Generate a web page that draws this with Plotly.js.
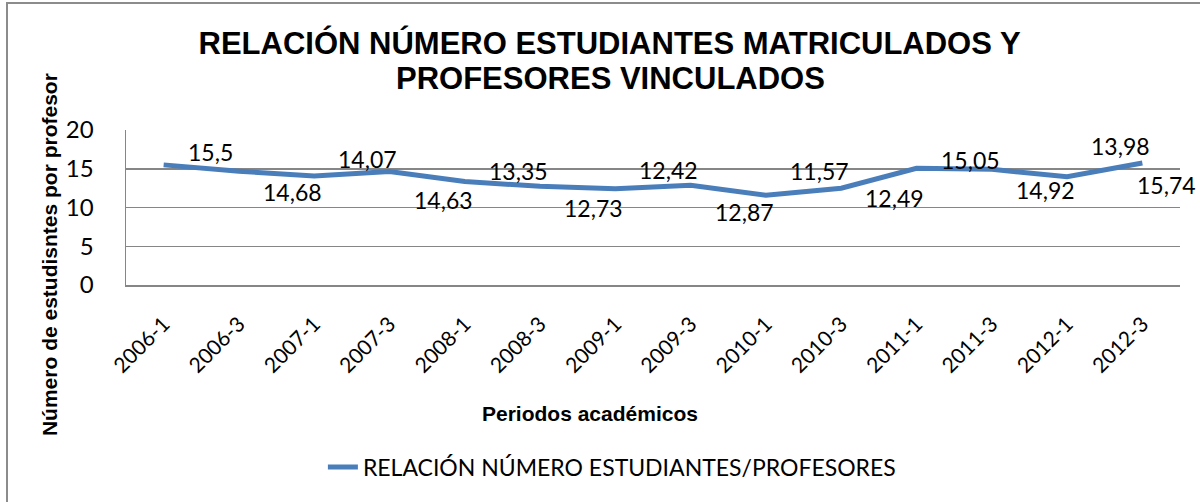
<!DOCTYPE html>
<html>
<head>
<meta charset="utf-8">
<script src="https://cdn.plot.ly/plotly-3.0.1.min.js"></script>
<style>
  html, body { margin: 0; padding: 0; background: #fff; overflow: hidden; }
  #chart { width: 1200px; height: 502px; position: absolute; left: 0; top: 0; }
  #frame { position: absolute; left: 6px; top: 2px; width: 1300px; height: 600px;
           border-left: 2px solid #8c8c8c; border-top: 2px solid #8c8c8c; pointer-events: none; }
</style>
</head>
<body>
<div id="chart"></div>
<div id="frame"></div>
<script>
// ---- data ----
const periods = ["2006-1","2006-3","2007-1","2007-3","2008-1","2008-3","2009-1",
                 "2009-3","2010-1","2010-3","2011-1","2011-3","2012-1","2012-3"];
const ratio = [15.5, 14.68, 14.07, 14.63, 13.35, 12.73, 12.42,
               12.87, 11.57, 12.49, 15.05, 14.92, 13.98, 15.74];
const valueLabels = ["15,5","14,68","14,07","14,63","13,35","12,73","12,42",
                     "12,87","11,57","12,49","15,05","14,92","13,98","15,74"];
const seriesName = "RELACIÓN NÚMERO ESTUDIANTES/PROFESORES";
const yTicks = [0, 5, 10, 15, 20];

// ---- label placement (pixel offsets of each data label, as laid out in the original) ----
const labelShiftY = [13, -21, 17, -28, 11, -22, 19, -27, 24, -10, 8, -21, 31, -22];

const calibri = "Lato, 'Open Sans', sans-serif";
const arial = "'Liberation Sans', Arial, sans-serif";

const trace = {
  x: periods, y: ratio, type: "scatter", mode: "lines", name: seriesName,
  line: { color: "#4A7EBB", width: 5 }, hoverinfo: "x+y"
};

const annotations = periods.map((p, i) => {
  const last = i === periods.length - 1;
  return {
    x: p, y: ratio[i], xref: "x", yref: "y", text: valueLabels[i], showarrow: false,
    xanchor: last ? "right" : "left", yanchor: "middle",
    xshift: last ? 56 : 22, yshift: labelShiftY[i],
    font: { family: calibri, size: 23, color: "#000" }
  };
});
annotations.push({
  text: "<b>PROFESORES VINCULADOS</b>", xref: "paper", yref: "paper",
  x: (610 - 126) / 1054, y: 1 + (130 - 78) / 155, xanchor: "center", yanchor: "middle",
  showarrow: false, font: { family: arial, size: 31, color: "#000" }
});
annotations.push({
  text: "Periodos académicos", xref: "paper", yref: "paper", x: 0.44, y: -0.826,
  xanchor: "center", yanchor: "middle", showarrow: false,
  font: { family: arial, size: 21, color: "#000", weight: "bold" }
});
annotations.push({
  text: "Número de estudisntes por profesor", xref: "paper", yref: "paper",
  x: -0.072, y: 0.194, xanchor: "center", yanchor: "middle", showarrow: false, textangle: -90,
  font: { family: arial, size: 21, color: "#000", weight: "bold" }
});

const layout = {
  width: 1200, height: 502,
  margin: { l: 126, r: 20, t: 130, b: 217 },
  paper_bgcolor: "#fff", plot_bgcolor: "#fff",
  title: {
    text: "<b>RELACIÓN NÚMERO ESTUDIANTES MATRICULADOS Y</b>",
    font: { family: arial, size: 31, color: "#000" },
    x: 0.508, xanchor: "center", xref: "container",
    y: 1 - 43 / 502, yanchor: "middle", yref: "container"
  },
  xaxis: {
    type: "category", range: [-0.5, periods.length - 0.5],
    showgrid: false, showline: true, linecolor: "#868686", linewidth: 1.5,
    ticks: "", tickangle: -45, ticklabelstandoff: 17,
    tickfont: { family: calibri, size: 21, color: "#000" },
    fixedrange: true
  },
  yaxis: {
    range: [0, 20], tickvals: yTicks, ticktext: yTicks.map(String),
    showgrid: true, gridcolor: "#868686", gridwidth: 1.5,
    showline: true, linecolor: "#868686", linewidth: 1.5,
    zeroline: false, ticks: "", ticklabelstandoff: 26,
    tickfont: { family: calibri, size: 24, color: "#000" },
    fixedrange: true
  },
  showlegend: true,
  legend: {
    orientation: "h", x: 0.461, xanchor: "center", y: -1.174, yanchor: "middle",
    font: { family: calibri, size: 23, color: "#000" }, bgcolor: "rgba(0,0,0,0)"
  },
  annotations: annotations
};

Plotly.newPlot("chart", [trace], layout, { displayModeBar: false, staticPlot: true });
</script>
</body>
</html>
